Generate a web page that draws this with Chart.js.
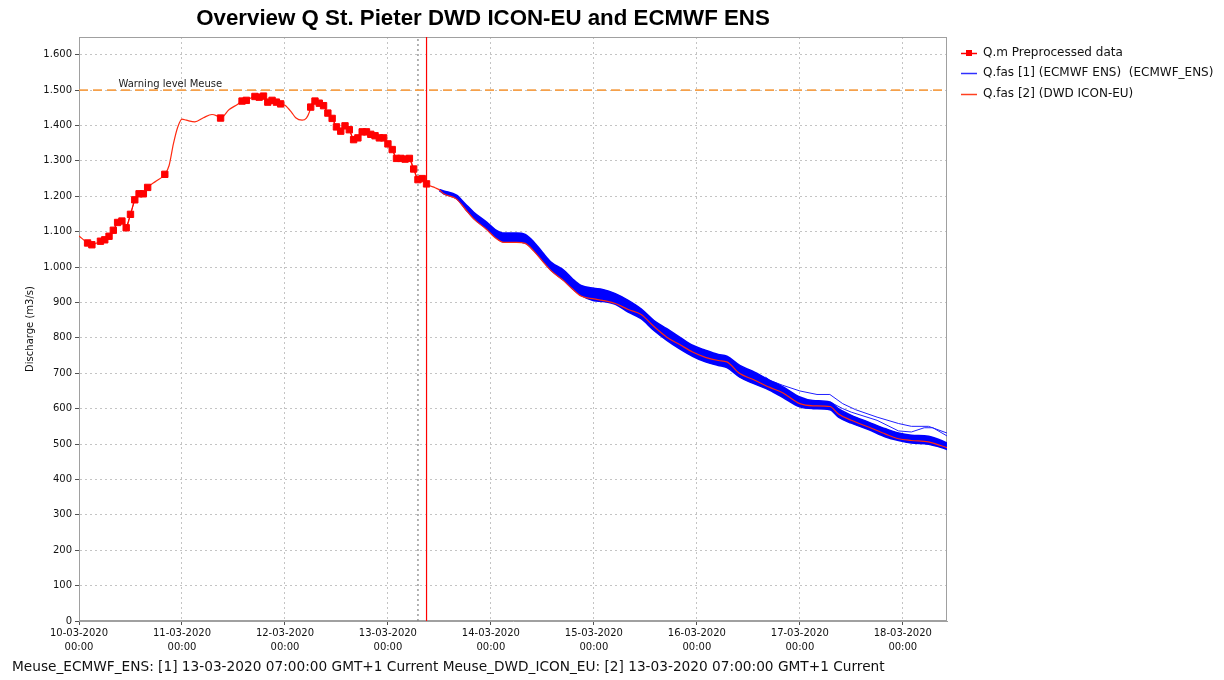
<!DOCTYPE html>
<html>
<head>
<meta charset="utf-8">
<title>Overview Q St. Pieter</title>
<script src="https://cdn.jsdelivr.net/npm/chart.js@4.4.1/dist/chart.umd.min.js"></script>
<style>
  html, body { margin: 0; padding: 0; background: #fff; }
  #wrap { width: 1224px; height: 680px; }
</style>
</head>
<body>
<div id="wrap"><canvas id="history" width="1224" height="680"></canvas></div>
<script>
// time axis is in hours since 10-03-2020 00:00
const dayLabels = ['10-03-2020', '11-03-2020', '12-03-2020', '13-03-2020', '14-03-2020',
                   '15-03-2020', '16-03-2020', '17-03-2020', '18-03-2020']

// Q.m Preprocessed data (observed, hourly where available)
const obsHours = [2, 3, 5, 6, 7, 8, 9, 10, 11, 12, 13, 14, 15, 16, 20, 33, 38, 39, 41, 42, 43, 44, 45, 46, 47,
                  54, 55, 56, 57, 58, 59, 60, 61, 62, 63, 64, 65, 66, 67, 68, 69, 70, 71, 72, 73, 74, 75, 76, 77, 78, 79, 80, 81]
const obsValues = [1068, 1063, 1073, 1077, 1087, 1104, 1126, 1130, 1111, 1149, 1190, 1207, 1207, 1225, 1262, 1421, 1469, 1471, 1482, 1480, 1483, 1466, 1471, 1466, 1461,
                   1452, 1469, 1463, 1456, 1435, 1420, 1396, 1384, 1399, 1388, 1360, 1365, 1382, 1382, 1375, 1371, 1365, 1365, 1348, 1332, 1307, 1307, 1305, 1307, 1277, 1247, 1250, 1235]

// Q.fas [2] DWD ICON-EU (hindcast + forecast)
const dwdHours = [0, 2, 3, 5, 6, 7, 8, 9, 10, 11, 12, 13, 14, 15, 16, 18, 20, 21, 22, 23, 24, 25, 27, 29, 31, 32, 33, 35, 37, 38, 39, 41, 42, 43, 44, 45, 46, 47,
                  48, 49.5, 50.5, 52, 53, 53.7, 54, 55, 56, 57, 58, 59, 60, 61, 62, 63, 64, 65, 66, 67, 68, 69, 70, 71, 72, 73, 74, 75, 76, 77, 78, 79, 80, 81, 83,
                  84, 85, 88, 90, 92, 95, 97, 99, 102, 104, 106, 108, 110, 113, 115, 117, 120, 122, 125, 128, 131, 134, 137, 140, 143, 146, 149, 151,
                  154, 157, 161, 164, 168, 171, 175, 177, 180, 184, 188, 191, 194, 198, 201, 203]
const dwdValues = [1088, 1068, 1063, 1073, 1077, 1087, 1104, 1126, 1130, 1111, 1149, 1190, 1207, 1207, 1225, 1243, 1262, 1287, 1348, 1395, 1418, 1415, 1410, 1422, 1431, 1428, 1421, 1445, 1460, 1469, 1471, 1482, 1480, 1483, 1466, 1471, 1466, 1461,
                   1457, 1438, 1422, 1415, 1421, 1438, 1452, 1469, 1463, 1456, 1435, 1420, 1396, 1384, 1399, 1388, 1360, 1365, 1382, 1382, 1375, 1371, 1365, 1365, 1348, 1332, 1307, 1307, 1305, 1307, 1277, 1247, 1250, 1235, 1224,
                   1218, 1207, 1192, 1164, 1136, 1106, 1083, 1070, 1070, 1067, 1045, 1017, 990, 961, 938, 918, 910, 906, 897, 880, 866, 832, 802, 781, 760, 745, 736, 732,
                   699, 683, 660, 645, 614, 608, 606, 585, 567, 548, 528, 515, 510, 506, 495, 487]

// Q.fas [1] ECMWF ENS: upper and lower edge of the member bundle
const ensHours = [84, 85, 88, 90, 92, 95, 97, 99, 102, 104, 106, 108, 110, 113, 115, 117, 120, 122, 125, 128, 131, 134, 137, 140, 143, 146, 149, 151,
                  154, 157, 161, 164, 168, 171, 175, 177, 180, 184, 188, 191, 194, 198, 201, 203]
const ensTop = [1219, 1215, 1203, 1179, 1155, 1127, 1106, 1096, 1096, 1092, 1071, 1042, 1014, 991, 967, 948, 940, 937, 925, 906, 882, 849, 826, 802, 779, 765, 753, 748,
                722, 706, 680, 662, 633, 623, 619, 600, 581, 562, 543, 531, 525, 522, 510, 499]
const ensBottom = [1216, 1207, 1193, 1165, 1137, 1108, 1085, 1071, 1071, 1068, 1047, 1019, 991, 962, 939, 920, 905, 903, 895, 873, 854, 821, 793, 769, 748, 732, 722, 716,
                   689, 672, 652, 632, 605, 600, 597, 576, 559, 541, 520, 510, 503, 499, 490, 482]
// two ECMWF members that leave the bundle
const ensHighHours = [160, 161, 164, 168, 172, 175, 178, 181, 186, 191, 194, 198, 203]
const ensHighValues = [689, 680, 666, 650, 640, 640, 614, 597, 576, 558, 550, 550, 528]
const ensHigh2Hours = [175, 178, 180, 186, 191, 194, 197, 199, 203]
const ensHigh2Values = [619, 600, 590, 567, 537, 534, 546, 546, 518]

const warningLevel = 1500
const forecastT0Hour = 79   // 13-03-2020 07:00
const nowHour = 81
const xMaxHour = 202.3

const red = '#ff0000'
const dwdRed = '#ff2a10'
const blue = '#0000ff'
const tickFont = { family: '"DejaVu Sans", sans-serif', size: 10 }

const pts = (xs, ys) => xs.map((h, i) => ({ x: h, y: ys[i] }))

const overlay = {
  id: 'overlay',
  beforeDatasetsDraw(chart) {
    const { ctx, chartArea: a } = chart
    ctx.save()
    ctx.strokeStyle = '#a0a0a0'
    ctx.lineWidth = 1
    ctx.strokeRect(a.left + 0.5, a.top + 0.5, a.width - 1, a.height - 1)
    ctx.restore()
  },
  afterDraw(chart) {
    const { ctx, scales: { x, y } } = chart
    ctx.save()
    ctx.fillStyle = '#000'
    ctx.textBaseline = 'middle'
    ctx.textAlign = 'center'
    ctx.font = 'bold 22.3px "Liberation Sans", Arial, sans-serif'
    ctx.fillText('Overview Q St. Pieter DWD ICON-EU and ECMWF ENS', 483, 19)

    ctx.textAlign = 'left'
    ctx.font = '10px "DejaVu Sans", sans-serif'
    ctx.fillStyle = '#222'
    ctx.fillText('Warning level Meuse', x.getPixelForValue(9.2), y.getPixelForValue(warningLevel) - 6)

    // legend
    const rows = [
      { text: 'Q.m Preprocessed data', color: red, marker: true },
      { text: 'Q.fas [1] (ECMWF ENS)  (ECMWF_ENS)', color: '#3030ff' },
      { text: 'Q.fas [2] (DWD ICON-EU)', color: '#ff4020' }
    ]
    ctx.font = '12px "DejaVu Sans", sans-serif'
    rows.forEach((r, i) => {
      const ly = 52.5 + i * 20.7
      ctx.strokeStyle = r.color
      ctx.lineWidth = 1.5
      ctx.beginPath()
      ctx.moveTo(961, Math.round(ly) + 0.5)
      ctx.lineTo(977, Math.round(ly) + 0.5)
      ctx.stroke()
      if (r.marker) {
        ctx.fillStyle = r.color
        ctx.fillRect(966, Math.round(ly) - 3, 6, 6)
      }
      ctx.fillStyle = '#111'
      ctx.fillText(r.text, 983, ly)
    })

    ctx.font = '13.7px "DejaVu Sans", sans-serif'
    ctx.fillStyle = '#111'
    ctx.fillText('Meuse_ECMWF_ENS: [1] 13-03-2020 07:00:00 GMT+1 Current Meuse_DWD_ICON_EU: [2] 13-03-2020 07:00:00 GMT+1 Current', 12, 667)
    ctx.restore()
  }
}

const chart = new Chart(document.getElementById('history'), {
  type: 'line',
  data: {
    datasets: [{
      label: 'Q.m Preprocessed data',
      data: pts(obsHours, obsValues),
      borderColor: red,
      backgroundColor: red,
      borderWidth: 1,
      pointStyle: 'rect',
      pointRadius: 4.5,
      pointBorderWidth: 1,
      segment: {
        borderColor: ctx => ctx.p1.parsed.x - ctx.p0.parsed.x > 1.5 ? 'transparent' : red
      },
      order: 0
    }, {
      label: 'Q.fas [2] (DWD ICON-EU)',
      data: pts(dwdHours, dwdValues),
      borderColor: dwdRed,
      borderWidth: 1.2,
      pointRadius: 0,
      cubicInterpolationMode: 'monotone',
      order: 1
    }, {
      label: 'ens top',
      data: pts(ensHours, ensTop),
      borderColor: blue,
      borderWidth: 1.5,
      pointRadius: 0,
      cubicInterpolationMode: 'monotone',
      fill: false,
      order: 2
    }, {
      label: 'ens bottom',
      data: pts(ensHours, ensBottom),
      borderColor: blue,
      backgroundColor: blue,
      borderWidth: 1.5,
      pointRadius: 0,
      cubicInterpolationMode: 'monotone',
      fill: '-1',
      order: 2
    }, {
      label: 'ens high 1',
      data: pts(ensHighHours, ensHighValues),
      borderColor: '#2020ff',
      borderWidth: 1,
      pointRadius: 0,
      order: 3
    }, {
      label: 'ens high 2',
      data: pts(ensHigh2Hours, ensHigh2Values),
      borderColor: '#2020ff',
      borderWidth: 1,
      pointRadius: 0,
      order: 3
    }, {
      label: 'warning',
      data: [{ x: 0, y: warningLevel }, { x: xMaxHour, y: warningLevel }],
      borderColor: '#f5a04a',
      borderWidth: 1.6,
      borderDash: [9, 5],
      pointRadius: 0,
      order: 5
    }, {
      label: 't0',
      data: [{ x: forecastT0Hour, y: 0 }, { x: forecastT0Hour, y: 1650 }],
      borderColor: '#808080',
      borderWidth: 1.2,
      borderDash: [2, 3],
      pointRadius: 0,
      order: 6
    }, {
      label: 'now',
      data: [{ x: nowHour, y: 0 }, { x: nowHour, y: 1650 }],
      borderColor: red,
      borderWidth: 1.2,
      pointRadius: 0,
      order: 4
    }]
  },
  options: {
    responsive: false,
    animation: false,
    events: [],
    layout: { padding: { left: 0, top: 37, right: 277, bottom: 19 } },
    plugins: {
      legend: { display: false },
      tooltip: { enabled: false }
    },
    scales: {
      x: {
        type: 'linear',
        min: 0,
        max: xMaxHour,
        afterBuildTicks: s => { s.ticks = dayLabels.map((d, i) => ({ value: i * 24 })) },
        afterFit: s => { s.height = 40 },
        ticks: {
          autoSkip: false,
          maxRotation: 0,
          padding: 2,
          color: '#111',
          font: { ...tickFont, lineHeight: 1.35 },
          callback: v => [dayLabels[Math.round(v / 24)], '00:00']
        },
        grid: { color: '#c4c4c4', tickColor: '#505050', tickLength: 4, tickBorderDash: [] },
        border: { color: '#a0a0a0', dash: [2, 3] }
      },
      y: {
        min: 0,
        max: 1650,
        afterBuildTicks: s => { s.ticks = s.ticks.filter(t => t.value % 100 === 0) },
        afterFit: s => { s.width = 79 },
        ticks: {
          stepSize: 100,
          padding: 3,
          color: '#111',
          font: tickFont,
          callback: v => v >= 1000 ? Math.floor(v / 1000) + '.' + String(v % 1000).padStart(3, '0') : String(v)
        },
        grid: { color: '#c4c4c4', tickColor: '#505050', tickLength: 4, tickBorderDash: [] },
        border: { color: '#a0a0a0', dash: [2, 3] },
        title: {
          display: true,
          text: 'Discharge (m3/s)',
          color: '#111',
          font: { family: '"DejaVu Sans", sans-serif', size: 10 },
          padding: { top: 24, bottom: 0 }
        }
      }
    }
  },
  plugins: [overlay]
})
</script>
</body>
</html>
